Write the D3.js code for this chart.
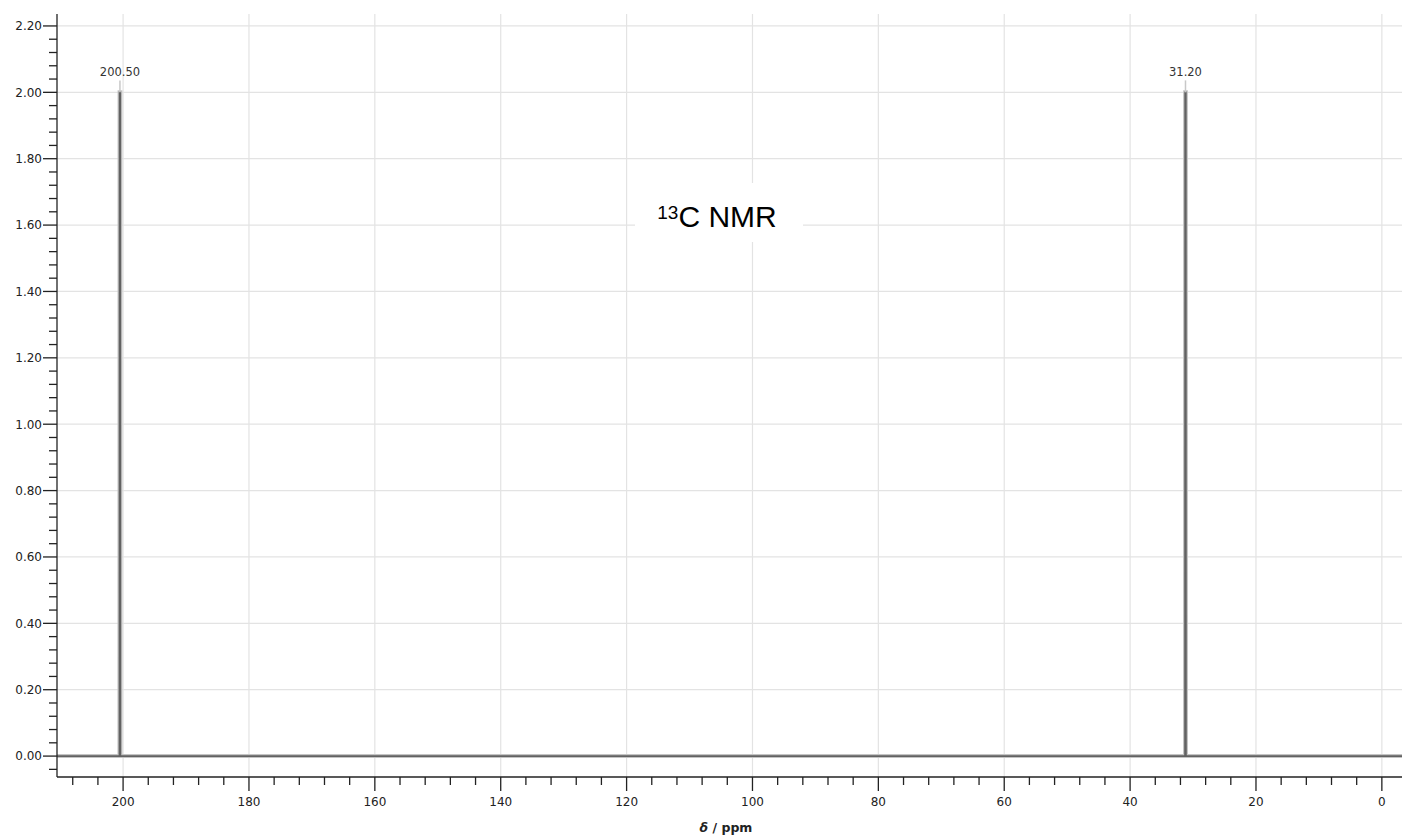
<!DOCTYPE html>
<html><head><meta charset="utf-8">
<script src="https://cdn.jsdelivr.net/npm/d3@7"></script>
<style>
html,body{margin:0;padding:0;background:#fff;}
svg{display:block;}
</style></head>
<body>
<svg id="chart" width="1402" height="838"></svg>
<script>
// ---- data ----
const specPpm = [210.5, 200.58, 200.56, 200.44, 200.42, 31.28, 31.26, 31.14, 31.12, -3.2];
const specInt = [0, 0, 2.0, 2.0, 0, 0, 2.0, 2.0, 0, 0];
const peakPpm = [200.50, 31.20];
const peakLabels = ["200.50", "31.20"];
const peakHeight = [2.0, 2.0];
const xMajorTicks = [0, 20, 40, 60, 80, 100, 120, 140, 160, 180, 200];
const yMajorTicks = [0, 0.2, 0.4, 0.6, 0.8, 1.0, 1.2, 1.4, 1.6, 1.8, 2.0, 2.2];
const title = "NMR";
const titleIso = "13";
const xLabelSym = "δ";
const xLabelUnit = " / ppm";

(function () {
// ---- layout ----
const svg = d3.select("#chart");
const pL = 57, pR = 1402, pT = 14, pB = 777;
const x = d3.scaleLinear().domain([210.5, -3.2]).range([pL, pR]);
const y = d3.scaleLinear().domain([-0.063, 2.236]).range([pB, pT]);
const font = "'DejaVu Sans', Verdana, sans-serif";

const xMinor = d3.range(0, 209, 4).filter(v => v % 20 !== 0);
const yMinor = d3.range(-1, 56).map(i => +(i * 0.04).toFixed(2))
  .filter(v => Math.abs(Math.round(v / 0.2) * 0.2 - v) > 1e-6 && v <= 2.236 && v >= -0.063);

// gridlines
const grid = svg.append("g").attr("stroke", "#e3e3e3").attr("stroke-width", 1.2);
grid.selectAll("line.v").data(xMajorTicks).join("line").attr("class", "v")
  .attr("x1", d => x(d)).attr("x2", d => x(d)).attr("y1", pT).attr("y2", pB);
grid.selectAll("line.h").data(yMajorTicks).join("line").attr("class", "h")
  .attr("x1", pL).attr("x2", pR).attr("y1", d => y(d)).attr("y2", d => y(d));

// title box
const tg = svg.append("g");
tg.append("rect").attr("x", 635).attr("y", 183).attr("width", 168).attr("height", 59).attr("fill", "#fff");
const tt = tg.append("text").attr("x", 717).attr("y", 227).attr("text-anchor", "middle")
  .attr("font-family", "'Liberation Sans', Arial, sans-serif").attr("font-size", 30).attr("fill", "#000");
tt.append("tspan").attr("font-size", 19).attr("dy", -8.5).text(titleIso);
tt.append("tspan").attr("dy", 8.5).text("C " + title);

// spectrum
const pts = specPpm.map((p, i) => [p, specInt[i]]);
const line = d3.line().x(d => x(d[0])).y(d => y(d[1]));
svg.append("path").datum(pts).attr("d", line).attr("fill", "none")
  .attr("stroke", "#c4c4c4").attr("stroke-width", 4).attr("stroke-linejoin", "miter");
svg.append("path").datum(pts).attr("d", line).attr("fill", "none")
  .attr("stroke", "#626262").attr("stroke-width", 1.6).attr("stroke-linejoin", "miter");

// peak labels
const pk = svg.append("g");
pk.selectAll("line").data(peakPpm).join("line")
  .attr("x1", d => x(d)).attr("x2", d => x(d))
  .attr("y1", (d, i) => y(peakHeight[i])).attr("y2", (d, i) => y(peakHeight[i] + 0.036))
  .attr("stroke", "#c8c8c8").attr("stroke-width", 1.5);
pk.selectAll("text").data(peakPpm).join("text")
  .attr("x", d => x(d)).attr("y", (d, i) => y(peakHeight[i] + 0.05))
  .attr("text-anchor", "middle").attr("font-family", font).attr("font-size", 11.5)
  .attr("fill", "#333").text((d, i) => peakLabels[i]);

// axes
const ax = svg.append("g").attr("stroke", "#222").attr("stroke-width", 1.3);
ax.append("line").attr("x1", pL).attr("x2", pL).attr("y1", pT).attr("y2", pB);
ax.append("line").attr("x1", pL).attr("x2", pR).attr("y1", pB).attr("y2", pB);
ax.selectAll("line.xM").data(xMajorTicks).join("line").attr("class", "xM")
  .attr("x1", d => x(d)).attr("x2", d => x(d)).attr("y1", pB).attr("y2", pB + 14);
ax.selectAll("line.xm").data(xMinor).join("line").attr("class", "xm")
  .attr("x1", d => x(d)).attr("x2", d => x(d)).attr("y1", pB).attr("y2", pB + 8);
ax.selectAll("line.yM").data(yMajorTicks).join("line").attr("class", "yM")
  .attr("x1", pL - 14).attr("x2", pL).attr("y1", d => y(d)).attr("y2", d => y(d));
ax.selectAll("line.ym").data(yMinor).join("line").attr("class", "ym")
  .attr("x1", pL - 8).attr("x2", pL).attr("y1", d => y(d)).attr("y2", d => y(d));

const lbl = svg.append("g").attr("font-family", font).attr("font-size", 12).attr("fill", "#222");
lbl.selectAll("text.x").data(xMajorTicks).join("text").attr("class", "x")
  .attr("x", d => x(d)).attr("y", 806).attr("text-anchor", "middle").text(d => d3.format("d")(d));
lbl.selectAll("text.y").data(yMajorTicks).join("text").attr("class", "y")
  .attr("x", 42).attr("y", d => y(d)).attr("dy", "0.36em").attr("text-anchor", "end")
  .text(d => d.toFixed(2));

// x axis label
const xl = svg.append("text").attr("x", 726).attr("y", 832).attr("text-anchor", "middle")
  .attr("font-family", font).attr("font-size", 12.5).attr("font-weight", "bold").attr("fill", "#222");
xl.append("tspan").attr("font-style", "italic").text(xLabelSym);
xl.append("tspan").text(xLabelUnit);
})();
</script>
</body></html>
